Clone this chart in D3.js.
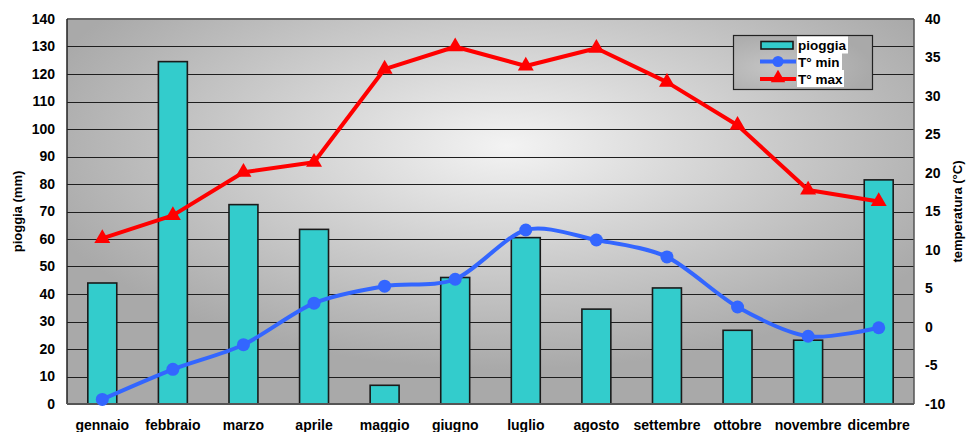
<!DOCTYPE html>
<html>
<head>
<meta charset="utf-8">
<script src="https://cdn.jsdelivr.net/npm/d3@7"></script>
<style>
  html, body { margin: 0; padding: 0; background: #ffffff; }
  svg { display: block; font-family: "Liberation Sans", Arial, Helvetica, sans-serif; }
</style>
</head>
<body>
<svg id="chart" width="968" height="432"></svg>
<script>
// Monthly climate data
const months = ["gennaio", "febbraio", "marzo", "aprile", "maggio", "giugno",
                "luglio", "agosto", "settembre", "ottobre", "novembre", "dicembre"];
const rain = [44, 124.5, 72.5, 63.5, 6.8, 46, 60.5, 34.5, 42.2, 26.8, 23.2, 81.5];
const tMin = [-9.4, -5.5, -2.3, 3.1, 5.3, 6.2, 12.6, 11.3, 9.1, 2.6, -1.2, -0.1];
const tMax = [11.5, 14.5, 20.1, 21.4, 33.5, 36.4, 33.9, 36.2, 31.8, 26.2, 17.8, 16.3];
const rainTicks = [0, 10, 20, 30, 40, 50, 60, 70, 80, 90, 100, 110, 120, 130, 140];
const tempTicks = [-10, -5, 0, 5, 10, 15, 20, 25, 30, 35, 40];

const svg = d3.select("#chart");
const plot = { left: 67, right: 914, top: 19, bottom: 404 };

const x = d3.scaleBand().domain(months).range([plot.left, plot.right]).padding(0);
const yRain = d3.scaleLinear().domain([0, 140]).range([plot.bottom, plot.top]);
const yTemp = d3.scaleLinear().domain([-10, 40]).range([plot.bottom, plot.top]);
const cx = m => x(m) + x.bandwidth() / 2;

// Background gradient of the plot area
const defs = svg.append("defs");
const grad = defs.append("radialGradient").attr("id", "bg")
  .attr("cx", 0.52).attr("cy", 0.33).attr("r", 0.58).attr("fx", 0.52).attr("fy", 0.33);
grad.append("stop").attr("offset", "0%").attr("stop-color", "#f3f3f3");
grad.append("stop").attr("offset", "100%").attr("stop-color", "#a9a9a9");

const lgGrad = defs.append("radialGradient").attr("id", "lgbg")
  .attr("cx", 0.3).attr("cy", 0.6).attr("r", 0.7);
lgGrad.append("stop").attr("offset", "0%").attr("stop-color", "#c4c4c4");
lgGrad.append("stop").attr("offset", "100%").attr("stop-color", "#a9a9a9");

svg.append("rect")
  .attr("x", plot.left).attr("y", plot.top)
  .attr("width", plot.right - plot.left).attr("height", plot.bottom - plot.top)
  .attr("fill", "url(#bg)");

// Horizontal gridlines
svg.append("g").selectAll("line").data(rainTicks.slice(1, -1)).join("line")
  .attr("x1", plot.left).attr("x2", plot.right)
  .attr("y1", d => Math.round(yRain(d)) + 0.5).attr("y2", d => Math.round(yRain(d)) + 0.5)
  .attr("stroke", "#1e1e1e").attr("stroke-width", 1.2);

// Plot frame
svg.append("line").attr("x1", plot.left).attr("x2", plot.right).attr("y1", plot.top).attr("y2", plot.top)
  .attr("stroke", "#666").attr("stroke-width", 2);
svg.append("line").attr("x1", plot.right).attr("x2", plot.right).attr("y1", plot.top).attr("y2", plot.bottom)
  .attr("stroke", "#555").attr("stroke-width", 1.5);
svg.append("line").attr("x1", plot.left).attr("x2", plot.left).attr("y1", plot.top).attr("y2", plot.bottom)
  .attr("stroke", "#222").attr("stroke-width", 1.5);

// Rain bars
const barW = x.bandwidth() * 0.41;
svg.append("g").selectAll("rect").data(months).join("rect")
  .attr("x", (m) => cx(m) - barW / 2)
  .attr("y", (m, i) => yRain(rain[i]))
  .attr("width", barW)
  .attr("height", (m, i) => plot.bottom - yRain(rain[i]))
  .attr("fill", "#33cccc").attr("stroke", "#1a1a1a").attr("stroke-width", 1.6);

svg.append("line").attr("x1", plot.left).attr("x2", plot.right).attr("y1", plot.bottom).attr("y2", plot.bottom)
  .attr("stroke", "#555").attr("stroke-width", 2);

// T max line (straight segments) with triangle markers
const lineMax = d3.line().x((d, i) => cx(months[i])).y(d => yTemp(d));
svg.append("path").datum(tMax).attr("d", lineMax)
  .attr("fill", "none").attr("stroke", "#ff0000").attr("stroke-width", 4).attr("stroke-linejoin", "round");
svg.append("g").selectAll("path").data(tMax).join("path")
  .attr("transform", (d, i) => `translate(${cx(months[i])},${yTemp(d)})`)
  .attr("d", d3.symbol(d3.symbolTriangle, 110))
  .attr("fill", "#ff0000");

// T min line (smoothed) with circle markers
const lineMin = d3.line().x((d, i) => cx(months[i])).y(d => yTemp(d)).curve(d3.curveCardinal.tension(0.15));
svg.append("path").datum(tMin).attr("d", lineMin)
  .attr("fill", "none").attr("stroke", "#3366ff").attr("stroke-width", 4);
svg.append("g").selectAll("circle").data(tMin).join("circle")
  .attr("cx", (d, i) => cx(months[i])).attr("cy", d => yTemp(d)).attr("r", 6.5)
  .attr("fill", "#3366ff");

// Axes
const tickStyle = g => {
  g.select(".domain").remove();
  g.selectAll(".tick line").remove();
  g.selectAll("text").attr("font-size", 14).attr("font-weight", "bold").attr("fill", "#000")
    .attr("font-family", "'Liberation Sans', Arial, sans-serif");
};
svg.append("g").attr("transform", `translate(${plot.left},0)`)
  .call(d3.axisLeft(yRain).tickValues(rainTicks).tickFormat(d => String(d)).tickSize(0).tickPadding(12))
  .call(tickStyle);
svg.append("g").attr("transform", `translate(${plot.right},0)`)
  .call(d3.axisRight(yTemp).tickValues(tempTicks).tickFormat(d => String(d)).tickSize(0).tickPadding(11))
  .call(tickStyle);
svg.append("g").attr("transform", `translate(0,${plot.bottom})`)
  .call(d3.axisBottom(x).tickSize(0).tickPadding(16))
  .call(tickStyle);

// Axis titles
svg.append("text").attr("transform", `translate(22,${(plot.top + plot.bottom) / 2}) rotate(-90)`)
  .attr("text-anchor", "middle").attr("font-size", 13).attr("font-weight", "bold")
  .text("pioggia (mm)");
svg.append("text").attr("transform", `translate(962,${(plot.top + plot.bottom) / 2}) rotate(-90)`)
  .attr("text-anchor", "middle").attr("font-size", 13).attr("font-weight", "bold")
  .text("temperatura (°C)");

// Legend
const lg = svg.append("g");
lg.append("rect").attr("x", 733.5).attr("y", 35.5).attr("width", 139).attr("height", 54)
  .attr("fill", "url(#lgbg)").attr("stroke", "#222").attr("stroke-width", 1.2);
const rows = [
  { label: "pioggia", y: 45, w: 51 },
  { label: "T° min", y: 61.5, w: 45 },
  { label: "T° max", y: 78.5, w: 47 }
];
rows.forEach(r => {
  lg.append("rect").attr("x", 797).attr("y", r.y - 8.5).attr("width", r.w).attr("height", 17).attr("fill", "#fff");
  lg.append("text").attr("x", 798).attr("y", r.y + 5).attr("font-size", 13.5).attr("font-weight", "bold").text(r.label);
});
lg.append("rect").attr("x", 761).attr("y", 41.5).attr("width", 32).attr("height", 7.5)
  .attr("fill", "#33cccc").attr("stroke", "#1a1a1a").attr("stroke-width", 1.6);
lg.append("line").attr("x1", 760).attr("x2", 796).attr("y1", 61.5).attr("y2", 61.5)
  .attr("stroke", "#3366ff").attr("stroke-width", 4);
lg.append("circle").attr("cx", 778).attr("cy", 61.5).attr("r", 5.5).attr("fill", "#3366ff");
lg.append("line").attr("x1", 760).attr("x2", 796).attr("y1", 79).attr("y2", 79)
  .attr("stroke", "#ff0000").attr("stroke-width", 4);
lg.append("path").attr("transform", "translate(778,78)").attr("d", d3.symbol(d3.symbolTriangle, 90)).attr("fill", "#ff0000");
</script>
</body>
</html>
